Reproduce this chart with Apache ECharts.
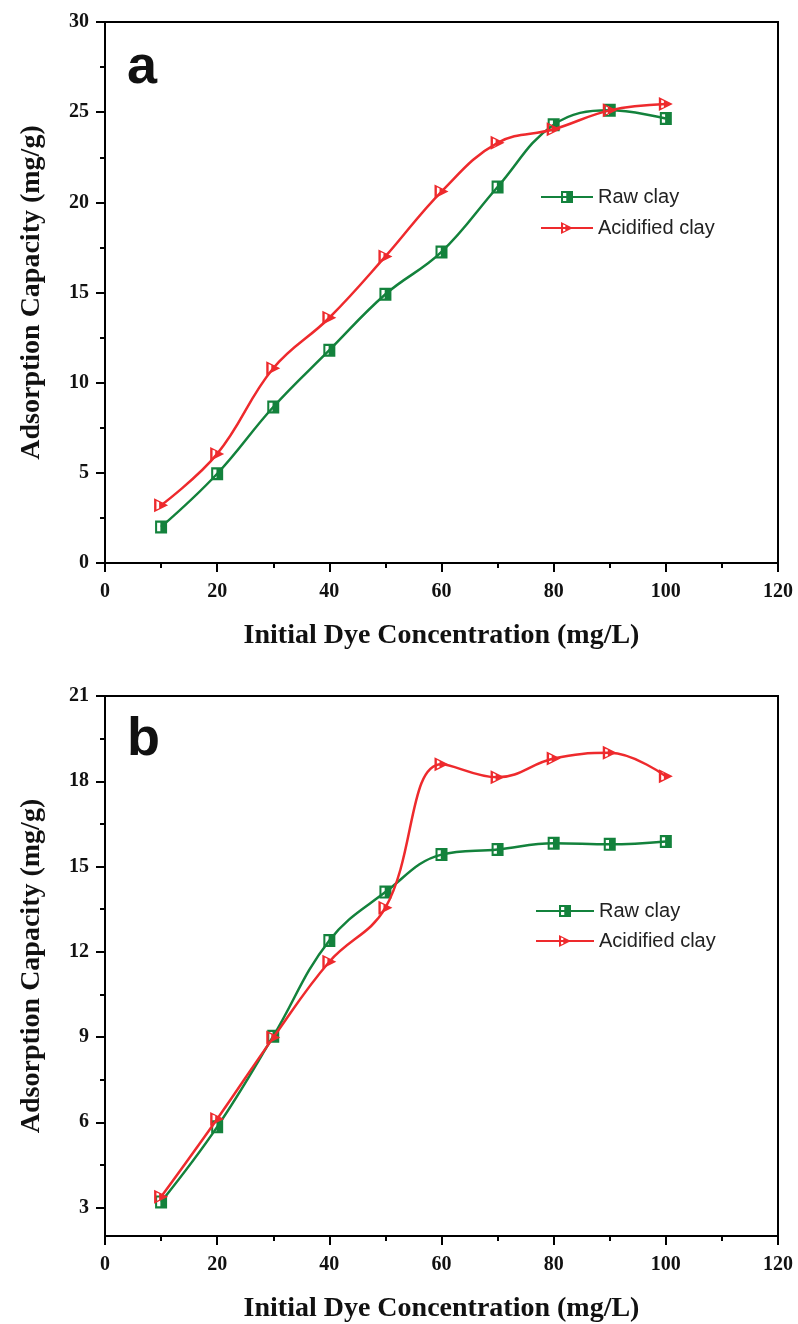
<!DOCTYPE html>
<html>
<head>
<meta charset="utf-8">
<script src="https://cdn.jsdelivr.net/npm/echarts@6/dist/echarts.min.js"></script>
<style>
html,body{margin:0;padding:0;background:#fff;}
#chart{width:798px;height:1324px;}
</style>
</head>
<body>
<div id="chart"></div>
<script>
// ---- data ----
var concentrations = [10, 20, 30, 40, 50, 60, 70, 80, 90, 100];
var rawClayA = [2.0, 4.95, 8.65, 11.8, 14.9, 17.25, 20.85, 24.3, 25.1, 24.65];
var acidClayA = [3.2, 6.05, 10.8, 13.6, 17.0, 20.6, 23.3, 24.05, 25.1, 25.45];
var rawClayB = [3.2, 5.84, 9.03, 12.4, 14.1, 15.42, 15.6, 15.82, 15.78, 15.88];
var acidClayB = [3.38, 6.12, 8.98, 11.65, 13.55, 18.6, 18.14, 18.8, 19.0, 18.18];
var yTicksB = [3, 6, 9, 12, 15, 18, 21];
var yMinorTicksB = [4.5, 7.5, 10.5, 13.5, 16.5, 19.5];
var seriesNames = ['Raw clay', 'Acidified clay'];

var GREEN = '#13823c';
var RED = '#ee2a2d';
var squareHalf = 'path://M0,0 L10,0 L10,10 L0,10 Z M1.7,1.7 L1.7,8.3 L4.4,8.3 L4.4,1.7 Z';
var triHalf = 'path://M0,0 L10,5 L0,10 Z M1.7,2.0 L1.7,8.0 L3.6,7.2 L3.6,2.8 Z';

function pairs(xs, ys) { return xs.map(function (x, i) { return [x, ys[i]]; }); }

var tickFont = { fontFamily: 'Liberation Serif', fontWeight: 'bold', fontSize: 20, color: '#111' };
var nameFont = { fontFamily: 'Liberation Serif', fontWeight: 'bold', fontSize: 28, color: '#111' };
var axisLine = { show: true, onZero: false, lineStyle: { color: '#000', width: 2 } };

function xAxis(gi) {
  return {
    type: 'value', gridIndex: gi, min: 0, max: 120, interval: 20,
    axisLine: axisLine,
    axisTick: { show: true, inside: false, length: 9, lineStyle: { color: '#000', width: 2 } },
    minorTick: { show: true, splitNumber: 2, length: 5, lineStyle: { color: '#000', width: 2 } },
    splitLine: { show: false },
    axisLabel: Object.assign({ margin: 19 }, tickFont),
    name: 'Initial Dye Concentration (mg/L)', nameLocation: 'middle', nameGap: 59,
    nameTextStyle: nameFont
  };
}

function lineSeries(name, data, xi, yi, color, symbol, size) {
  return {
    name: name, type: 'line', xAxisIndex: xi, yAxisIndex: yi,
    data: data, smooth: 0.4, symbol: symbol, symbolSize: size, symbolKeepAspect: false,
    lineStyle: { color: color, width: 2.5 },
    itemStyle: { color: color, borderColor: color, borderWidth: 0 },
    z: name === 'Acidified clay' ? 3 : 2
  };
}

var chart = echarts.init(document.getElementById('chart'), null, { renderer: 'canvas' });
chart.setOption({
  backgroundColor: '#fff',
  animation: false,
  title: [
    { text: 'a', left: 122, top: 36, textStyle: { fontFamily: 'Liberation Sans', fontWeight: 'bold', fontSize: 54, color: '#111' } },
    { text: 'b', left: 122, top: 708, textStyle: { fontFamily: 'Liberation Sans', fontWeight: 'bold', fontSize: 54, color: '#111' } }
  ],
  legend: [
    { data: seriesNames, left: 535, top: 182, orient: 'vertical', itemWidth: 52, itemHeight: 15, itemGap: 11,
      textStyle: { fontFamily: 'Liberation Sans', fontSize: 20, color: '#222' }, selectedMode: false },
    { data: seriesNames, left: 530, top: 896, orient: 'vertical', itemWidth: 58, itemHeight: 15, itemGap: 10,
      textStyle: { fontFamily: 'Liberation Sans', fontSize: 20, color: '#222' }, selectedMode: false }
  ],
  grid: [
    { left: 105, top: 22, width: 673, height: 541, show: true, borderColor: '#000', borderWidth: 2, backgroundColor: 'transparent' },
    { left: 105, top: 696, width: 673, height: 540, show: true, borderColor: '#000', borderWidth: 2, backgroundColor: 'transparent' }
  ],
  xAxis: [xAxis(0), xAxis(1)],
  yAxis: [
    {
      type: 'value', gridIndex: 0, min: 0, max: 30, interval: 5,
      axisLine: axisLine,
      axisTick: { show: true, inside: false, length: 9, lineStyle: { color: '#000', width: 2 } },
      minorTick: { show: true, splitNumber: 2, length: 5, lineStyle: { color: '#000', width: 2 } },
      splitLine: { show: false },
      axisLabel: Object.assign({ margin: 16 }, tickFont),
      name: 'Adsorption Capacity (mg/g)', nameLocation: 'middle', nameGap: 59, nameRotate: 90,
      nameTextStyle: nameFont
    },
    {
      type: 'value', gridIndex: 1, min: 2, max: 21,
      axisLine: axisLine,
      axisTick: { show: true, inside: false, length: 9, customValues: yTicksB, lineStyle: { color: '#000', width: 2 } },
      splitLine: { show: false },
      axisLabel: Object.assign({ margin: 16, customValues: yTicksB }, tickFont),
      name: 'Adsorption Capacity (mg/g)', nameLocation: 'middle', nameGap: 59, nameRotate: 90,
      nameTextStyle: nameFont
    },
    {
      type: 'value', gridIndex: 1, min: 2, max: 21, position: 'left',
      axisLine: { show: false },
      axisTick: { show: true, inside: false, length: 5, customValues: yMinorTicksB, lineStyle: { color: '#000', width: 2 } },
      splitLine: { show: false },
      axisLabel: { show: false }
    }
  ],
  series: [
    lineSeries(seriesNames[0], pairs(concentrations, rawClayA), 0, 0, GREEN, squareHalf, [12, 13]),
    lineSeries(seriesNames[1], pairs(concentrations, acidClayA), 0, 0, RED, triHalf, [14, 14]),
    lineSeries(seriesNames[0], pairs(concentrations, rawClayB), 1, 1, GREEN, squareHalf, [12, 13]),
    lineSeries(seriesNames[1], pairs(concentrations, acidClayB), 1, 1, RED, triHalf, [14, 14])
  ]
});
</script>
</body>
</html>
